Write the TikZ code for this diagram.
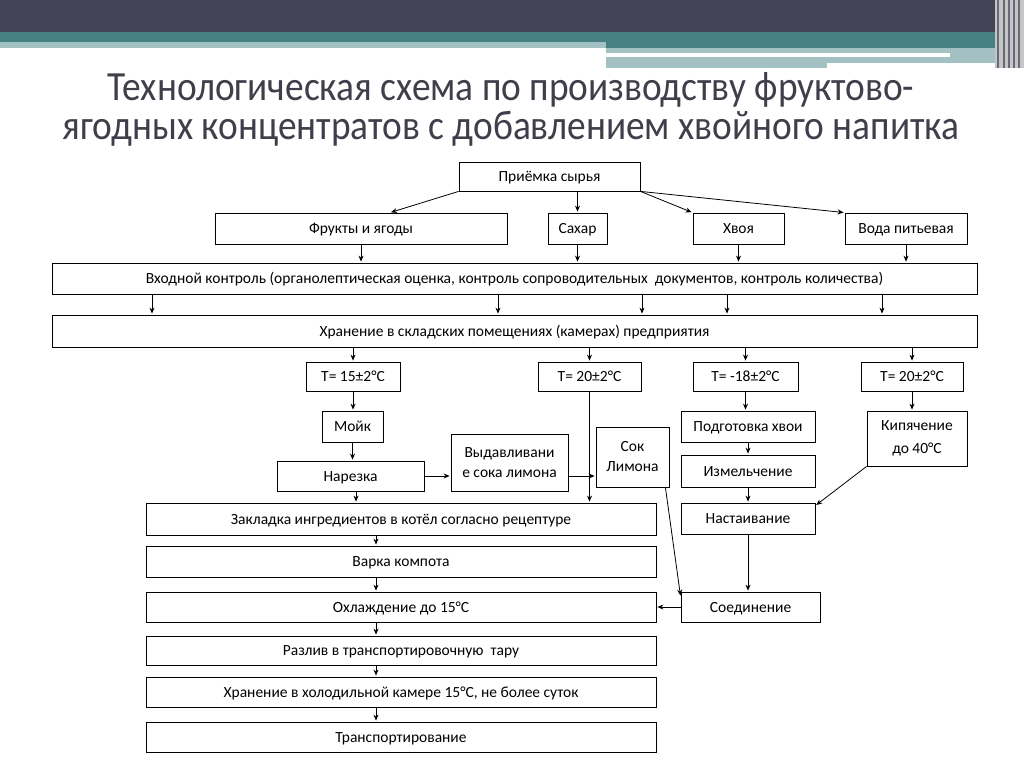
\documentclass[tikz,border=0pt]{standalone}
\usepackage{fontspec}
\setmainfont{Carlito}
\newfontfamily\titlefont[FakeStretch=0.9]{Carlito}
\usetikzlibrary{arrows.meta}
\definecolor{bandslate}{HTML}{434355}
\definecolor{bandteal}{HTML}{458083}
\definecolor{bandlight}{HTML}{A3C0C3}
\definecolor{titlegray}{HTML}{3F3F4C}

\begin{document}
\begin{tikzpicture}[->,>={Stealth[length=6pt,width=5pt]},shorten >=1pt,thick,x=1pt,y=-1pt,
    box/.style={rectangle,draw,thick,inner sep=1pt,align=center,font=\fontsize{15.5}{20}\selectfont},
    cell/.style={box,text height=12pt,text depth=2pt}]

    \useasboundingbox (0,0) rectangle (1024,767);

    % slide header
    \fill[bandslate] (0,0) rectangle (995,32);
    \fill[bandteal] (0,32) rectangle (995,42);
    \fill[bandteal] (606,42) rectangle (995,48);
    \fill[bandlight] (0,42) rectangle (606,48);
    \fill[bandlight] (606,48) rectangle (995,53);
    \fill[bandlight] (950,53) rectangle (995,57);
    \fill[bandlight] (606,57) rectangle (827,68);
    \fill[bandlight] (827,57) rectangle (1000,63);
    \fill[gray!45] (995,0) rectangle (1024,68);
    \foreach \s in {997,1003,1008,1013,1018} \fill[bandslate!80] (\s,0) rectangle (\s+2,68);

    \node[font=\titlefont\fontsize{41.5}{46}\selectfont, text=titlegray, anchor=base] (t1) at (511,101) {Технологическая схема по производству фруктово-};
    \node[font=\titlefont\fontsize{41.5}{46}\selectfont, text=titlegray, anchor=base] (t2) at (511,140) {ягодных концентратов с добавлением хвойного напитка};

    \node[cell, minimum width=181, minimum height=29] (1) at (549.5,176.5) {Приёмка сырья};
    \node[cell, minimum width=292, minimum height=31] (2) at (361,228.5) {Фрукты и ягоды};
    \node[cell, minimum width=59, minimum height=31] (3) at (577.5,228.5) {Сахар};
    \node[cell, minimum width=91, minimum height=31] (4) at (738.5,228.5) {Хвоя};
    \node[cell, minimum width=122, minimum height=31] (5) at (906,228.5) {Вода питьевая};
    \node[cell, minimum width=925, minimum height=31] (6) at (514.5,278.5) {Входной контроль (органолептическая оценка, контроль сопроводительных\ \ документов, контроль количества)};
    \node[cell, minimum width=925, minimum height=32] (7) at (514.5,331) {Хранение в складских помещениях (камерах) предприятия};

    \node[cell, minimum width=94, minimum height=29] (8) at (353,376.5) {Т= 15±2°С};
    \node[cell, minimum width=103, minimum height=29] (9) at (589.5,376.5) {Т= 20±2°С};
    \node[cell, minimum width=105, minimum height=29] (10) at (745.5,376.5) {Т= -18±2°С};
    \node[cell, minimum width=102, minimum height=29] (11) at (912,376.5) {Т= 20±2°С};

    \node[cell, minimum width=61, minimum height=31] (12) at (352.5,426.5) {Мойк};
    \node[cell, minimum width=147, minimum height=30] (13) at (350.5,476) {Нарезка};
    \node[box, minimum width=117, minimum height=57] (14) at (509.5,462.5) {Выдавливани\\е сока лимона};
    \node[box, minimum width=73, minimum height=60] (15) at (632.5,457) {Сок\\Лимона};
    \node[cell, minimum width=134, minimum height=31] (16) at (748,426.5) {Подготовка хвои};
    \node[box, minimum width=100, minimum height=55, font=\fontsize{15.5}{23}\selectfont] (17) at (917,438.5) {Кипячение\\до 40°С};
    \node[cell, minimum width=134, minimum height=32] (18) at (748,471) {Измельчение};
    \node[cell, minimum width=134, minimum height=31] (19) at (748,518.5) {Настаивание};
    \node[cell, minimum width=139, minimum height=30] (20) at (750.5,607) {Соединение};

    \node[cell, minimum width=510, minimum height=32] (21) at (401,519) {Закладка ингредиентов в котёл согласно рецептуре};
    \node[cell, minimum width=510, minimum height=31] (22) at (401,561.5) {Варка компота};
    \node[cell, minimum width=510, minimum height=30] (23) at (401,607) {Охлаждение до 15°С};
    \node[cell, minimum width=510, minimum height=29] (24) at (401,650.5) {Разлив в транспортировочную\ \ тару};
    \node[cell, minimum width=510, minimum height=30] (25) at (401,692) {Хранение в холодильной камере 15°С, не более суток};
    \node[cell, minimum width=510, minimum height=30] (26) at (401,737) {Транспортирование};

    \path
        (1.south west) edge ([xshift=29pt]2.north)
        (3.north |- 1.south) edge (3.north)
        (1.south east) edge (4.north west)
        (1.south east) edge (5.north west)
        (2.south) edge (2.south |- 6.north)
        (3.south) edge (3.south |- 6.north)
        (4.south) edge (4.south |- 6.north)
        (5.south) edge (5.south |- 6.north)
        (7.south -| 8.north) edge (8.north)
        (7.south -| 9.north) edge (9.north)
        (7.south -| 10.north) edge (10.north)
        (7.south -| 11.north) edge (11.north)
        (8.south) edge (8.south |- 12.north)
        (12.south) edge (12.south |- 13.north)
        (356,0 |- 13.south) edge (356,0 |- 21.north)
        (13.east) edge (14.west |- 13.east)
        (14.east |- 13.east) edge (15.west |- 13.east)
        (9.south) edge (9.south |- 21.north)
        (10.south) edge (10.south |- 16.north)
        (16.south) edge (16.south |- 18.north)
        (18.south) edge (18.south |- 19.north)
        (19.south) edge (19.south |- 20.north)
        (11.south) edge (11.south |- 17.north)
        (17.south west) edge ([yshift=-3pt]19.north east)
        ([xshift=-4pt]15.south east) edge ([yshift=-5pt]20.north west)
        (20.west) edge (20.west -| 23.east)
    ;
    \foreach \x in {152,498,642,727,882}
        \draw (\x,0 |- 6.south) -- (\x,0 |- 7.north);
    \foreach \a/\b in {21/22,22/23,23/24,24/25,25/26}
        \draw (376,0 |- \a.south) -- (376,0 |- \b.north);
\end{tikzpicture}
\end{document}
